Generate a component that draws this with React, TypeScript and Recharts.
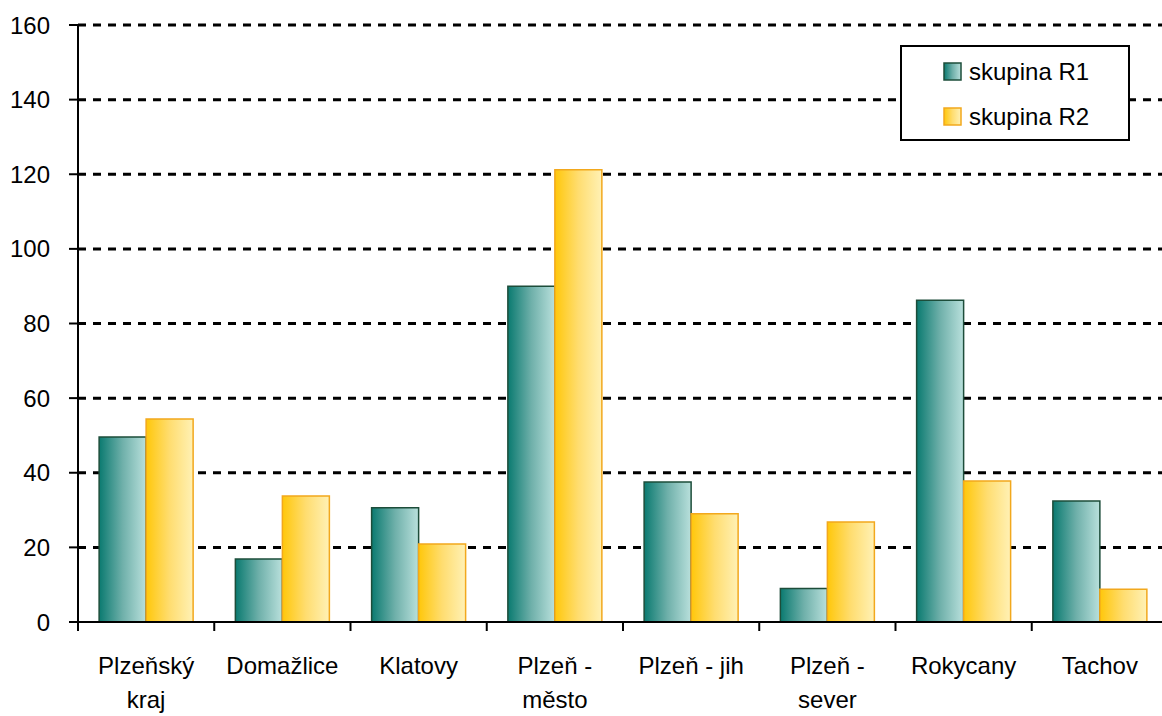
import { BarChart, Bar, XAxis, YAxis, CartesianGrid, Legend } from 'recharts'

const CATEGORIES = ['Plzeňský kraj', 'Domažlice', 'Klatovy', 'Plzeň - město', 'Plzeň - jih', 'Plzeň - sever', 'Rokycany', 'Tachov']
const CATEGORY_LINES: string[][] = [['Plzeňský', 'kraj'], ['Domažlice'], ['Klatovy'], ['Plzeň -', 'město'], ['Plzeň - jih'], ['Plzeň -', 'sever'], ['Rokycany'], ['Tachov']]
const R1 = [49.6, 16.9, 30.6, 90.0, 37.5, 9.0, 86.2, 32.4]
const R2 = [54.4, 33.8, 20.9, 121.2, 29.0, 26.8, 37.8, 8.8]
const SERIES_NAMES = ['skupina R1', 'skupina R2']
const Y_TICKS = [0, 20, 40, 60, 80, 100, 120, 140, 160]

const data = CATEGORIES.map((name, i) => ({ name, r1: R1[i], r2: R2[i] }))

const CHART_W = 1168
const CHART_H = 716
const Y_AXIS_W = 78
const BAND = (CHART_W - Y_AXIS_W) / CATEGORIES.length
const FONT = '"Liberation Sans", Arial, sans-serif'
const FONT_SIZE = 24

function CategoryTick({ x, y, payload, index }: any) {
  const lines = CATEGORY_LINES[index] ?? [payload.value]
  const half = BAND / 2
  return (
    <g>
      <line x1={x - half} y1={y} x2={x - half} y2={y + 9} stroke="#000" strokeWidth={2} />
      {index === CATEGORIES.length - 1 && (
        <line x1={x + half} y1={y} x2={x + half} y2={y + 9} stroke="#000" strokeWidth={2} />
      )}
      <text x={x} y={y + 52} textAnchor="middle" fontSize={FONT_SIZE} fontFamily={FONT} fill="#000">
        {lines.map((l, i) => (
          <tspan key={i} x={x} dy={i === 0 ? 0 : 34}>{l}</tspan>
        ))}
      </text>
    </g>
  )
}

function LegendBox() {
  const items = [
    { name: SERIES_NAMES[0], fill: 'url(#gradR1)', stroke: '#1d4d3a' },
    { name: SERIES_NAMES[1], fill: 'url(#gradR2)', stroke: '#f2a81d' },
  ]
  return (
    <div
      style={{
        width: 226,
        height: 92,
        border: '2.5px solid #000',
        background: '#fff',
        boxSizing: 'content-box',
        fontFamily: FONT,
        fontSize: FONT_SIZE,
        color: '#000',
      }}
    >
      {items.map((it, i) => (
        <div key={i} style={{ display: 'flex', alignItems: 'center', position: 'absolute', left: 43, top: 13 + i * 45 }}>
          <svg width={20} height={20} style={{ marginRight: 6 }}>
            <rect x={1} y={1} width={17} height={17} fill={it.fill} stroke={it.stroke} strokeWidth={1.5} />
          </svg>
          <span>{it.name}</span>
        </div>
      ))}
    </div>
  )
}

export default function App() {
  return (
    <div style={{ position: 'absolute', left: 0, top: 0, width: 1162, height: CHART_H, overflow: 'hidden', background: '#fff' }}>
      <BarChart
        width={CHART_W}
        height={CHART_H}
        data={data}
        margin={{ top: 25, right: 0, left: 0, bottom: 4 }}
        barGap={0}
        barCategoryGap="15.5%"
      >
        <defs>
          <linearGradient id="gradR1" x1="0" y1="0" x2="1" y2="0">
            <stop offset="0%" stopColor="#0a7a70" />
            <stop offset="50%" stopColor="#6fb0aa" />
            <stop offset="100%" stopColor="#b9e0dc" />
          </linearGradient>
          <linearGradient id="gradR2" x1="0" y1="0" x2="1" y2="0">
            <stop offset="0%" stopColor="#ffc70a" />
            <stop offset="50%" stopColor="#ffdd70" />
            <stop offset="100%" stopColor="#fff1b5" />
          </linearGradient>
        </defs>
        <CartesianGrid
          vertical={false}
          horizontalValues={Y_TICKS.slice(1)}
          stroke="#000"
          strokeWidth={3}
          strokeDasharray="8 7"
        />
        <XAxis
          dataKey="name"
          height={90}
          interval={0}
          tickLine={false}
          tickSize={0}
          tickMargin={0}
          axisLine={{ stroke: '#000', strokeWidth: 2 }}
          tick={<CategoryTick />}
        />
        <YAxis
          width={Y_AXIS_W}
          domain={[0, 160]}
          ticks={Y_TICKS}
          interval={0}
          tickSize={9}
          tickMargin={19}
          axisLine={{ stroke: '#000', strokeWidth: 2 }}
          tickLine={{ stroke: '#000', strokeWidth: 2 }}
          tick={{ fontSize: FONT_SIZE, fontFamily: FONT, fill: '#000' }}
        />
        <Legend
          layout="vertical"
          align="center"
          verticalAlign="middle"
          content={<LegendBox />}
          wrapperStyle={{ position: 'absolute', left: 900, top: 45, width: 231 }}
        />
        <Bar dataKey="r1" name={SERIES_NAMES[0]} fill="url(#gradR1)" stroke="#1d4d3a" strokeWidth={1.5} isAnimationActive={false} />
        <Bar dataKey="r2" name={SERIES_NAMES[1]} fill="url(#gradR2)" stroke="#f2a81d" strokeWidth={1.5} isAnimationActive={false} />
      </BarChart>
    </div>
  )
}
